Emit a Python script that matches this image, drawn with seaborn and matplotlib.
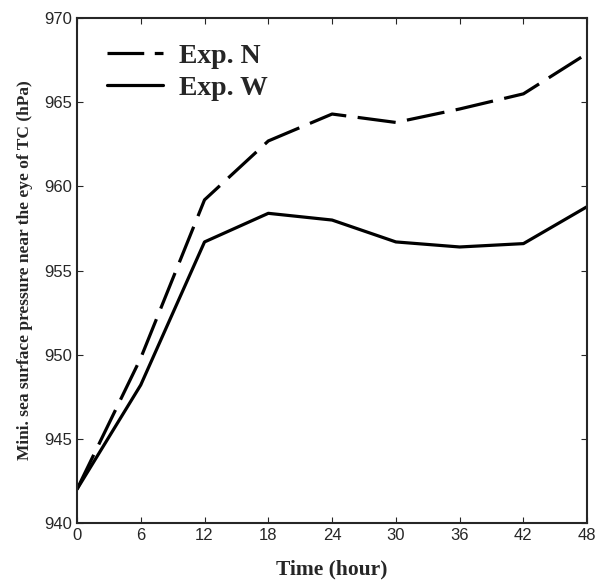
import pandas as pd
import matplotlib.pyplot as plt
import seaborn as sns

# data
hours = [0, 6, 12, 18, 24, 30, 36, 42, 48]
exp_n = [942.0, 949.8, 959.2, 962.7, 964.3, 963.8, 964.6, 965.5, 967.9]
exp_w = [942.0, 948.2, 956.7, 958.4, 958.0, 956.7, 956.4, 956.6, 958.8]

df = pd.DataFrame({
    "hour": hours * 2,
    "slp": exp_n + exp_w,
    "exp": ["Exp. N"] * len(hours) + ["Exp. W"] * len(hours),
})

sns.set_style("ticks")
plt.rcParams["font.family"] = ["Liberation Sans", "DejaVu Sans"]

fig = plt.figure(figsize=(6.06, 5.84), dpi=100)
ax = fig.add_axes([0.127, 0.1045, 0.842, 0.8645])

sns.lineplot(data=df[df["exp"] == "Exp. N"], x="hour", y="slp", ax=ax,
             color="black", lw=2.3, label="Exp. N")
sns.lineplot(data=df[df["exp"] == "Exp. W"], x="hour", y="slp", ax=ax,
             color="black", lw=2.3, label="Exp. W")
ax.lines[0].set_dashes([12, 3.6])

ax.set_xlim(0, 48)
ax.set_ylim(940, 970)
ax.set_xticks(hours)
ax.set_yticks(range(940, 971, 5))
ax.tick_params(direction="in", top=True, right=True, labelsize=12, length=4)
for s in ax.spines.values():
    s.set_linewidth(1.5)

ax.set_xlabel("Time (hour)", family="Liberation Serif", fontweight="bold",
              fontsize=15.5, labelpad=12)
ax.set_ylabel("Mini. sea surface pressure near the eye of TC (hPa)",
              family="Liberation Serif", fontweight="bold", fontsize=12.5,
              labelpad=8)

leg = ax.legend(loc="upper left", frameon=False, handlelength=2.0,
                prop={"family": "Liberation Serif", "weight": "bold", "size": 20},
                bbox_to_anchor=(0.01, 1.0), labelspacing=0.25, handletextpad=0.6)
leg.get_lines()[0].set_dashes([11.5, 3.3])

fig.savefig("out.png", dpi=100)
